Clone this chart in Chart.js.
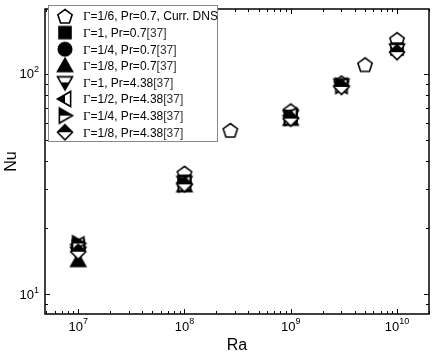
<!DOCTYPE html>
<html>
<head>
<meta charset="utf-8">
<script src="https://cdn.jsdelivr.net/npm/chart.js@4/dist/chart.umd.min.js"></script>
<style>
  html, body { margin: 0; padding: 0; background: #fff; }
</style>
</head>
<body>
<canvas id="nu-chart" width="438" height="360"></canvas>
<script>
// Nu vs Ra
const raDns = [1e8, 2.7e8, 1e9, 3e9, 5e9, 1e10];
const nuDns = [35.5, 55.5, 68, 91, 110, 143];

const raG1Pr07 = [1e7, 1e8, 1e9, 1e10];
const nuG1Pr07 = [16.6, 32.5, 63.5, 129];

const raG4Pr07 = [1e7, 1e8, 1e9];
const nuG4Pr07 = [16.2, 32, 63];

const raG8Pr07 = [1e7, 1e8, 1e9];
const nuG8Pr07 = [14.2, 31, 62];

const raG1Pr438 = [1e7, 1e8, 1e9, 3e9, 1e10];
const nuG1Pr438 = [15.4, 32.2, 64, 89, 128];

const raG2Pr438 = [1e7, 1e8, 1e9, 3e9];
const nuG2Pr438 = [16.8, 32, 64.5, 88];

const raG4Pr438 = [1e7, 1e8, 1e9, 3e9];
const nuG4Pr438 = [17, 31.5, 63, 88];

const raG8Pr438 = [1e7, 1e8, 1e9, 3e9, 1e10];
const nuG8Pr438 = [15.6, 31.5, 62.5, 87, 125];

const xTicks = [1e7, 1e8, 1e9, 1e10];
const yTicks = [10, 100];

const labels = [
  ['Γ', '=1/6, Pr=0.7, Curr. DNS', ''],
  ['Γ', '=1, Pr=0.7', '[37]'],
  ['Γ', '=1/4, Pr=0.7', '[37]'],
  ['Γ', '=1/8, Pr=0.7', '[37]'],
  ['Γ', '=1, Pr=4.38', '[37]'],
  ['Γ', '=1/2, Pr=4.38', '[37]'],
  ['Γ', '=1/4, Pr=4.38', '[37]'],
  ['Γ', '=1/8, Pr=4.38', '[37]'],
];

const SANS = '"Liberation Sans", Arial, sans-serif';
const SERIF = '"Liberation Serif", "Times New Roman", serif';

const shapePath = (ctx, shape, c, r) => {
  ctx.beginPath();
  if (shape === 'pentagon') {
    for (let i = 0; i < 5; i++) {
      const a = -Math.PI / 2 + i * 2 * Math.PI / 5;
      const px = c + r * Math.cos(a);
      const py = c + 1 + r * Math.sin(a);
      if (i === 0) ctx.moveTo(px, py); else ctx.lineTo(px, py);
    }
  } else if (shape === 'square') {
    ctx.rect(c - r * 0.8, c - r * 0.8, r * 1.6, r * 1.6);
  } else if (shape === 'circle') {
    ctx.arc(c, c, r * 0.9, 0, Math.PI * 2);
  } else if (shape === 'up') {
    ctx.moveTo(c, c - r); ctx.lineTo(c + r, c + r * 0.75); ctx.lineTo(c - r, c + r * 0.75);
  } else if (shape === 'down') {
    ctx.moveTo(c, c + r); ctx.lineTo(c + r, c - r * 0.75); ctx.lineTo(c - r, c - r * 0.75);
  } else if (shape === 'left') {
    ctx.moveTo(c - r, c); ctx.lineTo(c + r * 0.75, c - r); ctx.lineTo(c + r * 0.75, c + r);
  } else if (shape === 'right') {
    ctx.moveTo(c + r, c); ctx.lineTo(c - r * 0.75, c - r); ctx.lineTo(c - r * 0.75, c + r);
  } else if (shape === 'diamond') {
    ctx.moveTo(c, c - r); ctx.lineTo(c + r, c); ctx.lineTo(c, c + r); ctx.lineTo(c - r, c);
  }
  ctx.closePath();
};

// fill: 'white' | 'black' | which half is black
const makeMarker = (shape, fill) => {
  const size = 20;
  const c = size / 2;
  const r = 7.5;
  const cv = document.createElement('canvas');
  cv.width = size; cv.height = size;
  const ctx = cv.getContext('2d');
  shapePath(ctx, shape, c, r);
  ctx.fillStyle = fill === 'black' ? '#000' : '#fff';
  ctx.fill();
  if (fill !== 'black' && fill !== 'white') {
    ctx.save();
    shapePath(ctx, shape, c, r);
    ctx.clip();
    ctx.fillStyle = '#000';
    if (fill === 'bottom') ctx.fillRect(0, c, size, c);
    if (fill === 'top') ctx.fillRect(0, 0, size, c);
    if (fill === 'leftHalf') ctx.fillRect(0, 0, c, size);
    ctx.restore();
  }
  shapePath(ctx, shape, c, r);
  ctx.lineWidth = 1.6;
  ctx.strokeStyle = '#000';
  ctx.stroke();
  return cv;
};

const markers = [
  makeMarker('pentagon', 'white'),
  makeMarker('square', 'black'),
  makeMarker('circle', 'black'),
  makeMarker('up', 'black'),
  makeMarker('down', 'bottom'),
  makeMarker('left', 'leftHalf'),
  makeMarker('right', 'top'),
  makeMarker('diamond', 'top'),
];

const pairs = (xs, ys) => xs.map((x, i) => ({ x, y: ys[i] }));

const seriesData = [
  pairs(raDns, nuDns),
  pairs(raG1Pr07, nuG1Pr07),
  pairs(raG4Pr07, nuG4Pr07),
  pairs(raG8Pr07, nuG8Pr07),
  pairs(raG1Pr438, nuG1Pr438),
  pairs(raG2Pr438, nuG2Pr438),
  pairs(raG4Pr438, nuG4Pr438),
  pairs(raG8Pr438, nuG8Pr438),
];

// draw order: references first, DNS on top
const datasets = seriesData.map((data, idx) => ({
  label: labels[idx].join(''),
  data,
  pointStyle: markers[idx],
  pointRadius: 8,
  showLine: false,
})).reverse();

const drawSup = (ctx, base, exp, x, y, align) => {
  ctx.font = `13px ${SANS}`;
  const wb = ctx.measureText(base).width;
  ctx.font = `9px ${SANS}`;
  const we = ctx.measureText(exp).width;
  const total = wb + we;
  let left = x;
  if (align === 'center') left = x - total / 2;
  if (align === 'right') left = x - total;
  ctx.textBaseline = 'middle';
  ctx.textAlign = 'left';
  ctx.font = `13px ${SANS}`;
  ctx.fillText(base, left, y + 1);
  ctx.font = `9px ${SANS}`;
  ctx.fillText(exp, left + wb, y - 4);
};

const framePlugin = {
  id: 'frame',
  afterDatasetsDraw(chart) {
    const { ctx, chartArea: a, scales } = chart;
    const xs = scales.x;
    const ys = scales.y;
    ctx.save();
    ctx.strokeStyle = '#000';
    ctx.fillStyle = '#000';
    ctx.lineWidth = 1;

    // minor + major ticks, inward on all sides
    for (let e = 6; e <= 10; e++) {
      for (let m = 1; m <= 9; m++) {
        const v = m * Math.pow(10, e);
        if (v < xs.min || v > xs.max) continue;
        const px = Math.round(xs.getPixelForValue(v)) + 0.5;
        const len = m === 1 ? 5 : 3;
        ctx.beginPath();
        ctx.moveTo(px, a.bottom); ctx.lineTo(px, a.bottom - len);
        ctx.moveTo(px, a.top); ctx.lineTo(px, a.top + len);
        ctx.stroke();
      }
    }
    for (let e = 0; e <= 2; e++) {
      for (let m = 1; m <= 9; m++) {
        const v = m * Math.pow(10, e);
        if (v < ys.min || v > ys.max) continue;
        const py = Math.round(ys.getPixelForValue(v)) + 0.5;
        const len = m === 1 ? 5 : 3;
        ctx.beginPath();
        ctx.moveTo(a.left, py); ctx.lineTo(a.left + len, py);
        ctx.moveTo(a.right, py); ctx.lineTo(a.right - len, py);
        ctx.stroke();
      }
    }

    ctx.lineWidth = 1.5;
    ctx.strokeRect(a.left, a.top, a.right - a.left, a.bottom - a.top);

    // tick labels
    xTicks.forEach((v) => {
      const e = Math.round(Math.log10(v));
      drawSup(ctx, '10', String(e), xs.getPixelForValue(v), a.bottom + 12, 'center');
    });
    yTicks.forEach((v) => {
      const e = Math.round(Math.log10(v));
      drawSup(ctx, '10', String(e), a.left - 6, ys.getPixelForValue(v), 'right');
    });

    // axis titles
    ctx.font = `16px ${SANS}`;
    ctx.textAlign = 'center';
    ctx.textBaseline = 'middle';
    ctx.fillText('Ra', (a.left + a.right) / 2, 346);
    ctx.save();
    ctx.translate(12, (a.top + a.bottom) / 2);
    ctx.rotate(-Math.PI / 2);
    ctx.fillText('Nu', 0, 0);
    ctx.restore();

    // legend box
    const lx = 48, ly = 5, lw = 169, lh = 136;
    ctx.fillStyle = '#fff';
    ctx.fillRect(lx, ly, lw, lh);
    ctx.strokeStyle = '#888';
    ctx.lineWidth = 1;
    ctx.strokeRect(lx + 0.5, ly + 0.5, lw, lh);
    ctx.fillStyle = '#000';
    labels.forEach((parts, i) => {
      const cy = ly + 11 + i * 16.6;
      ctx.drawImage(markers[i], 65 - 10, cy - 10);
      let tx = 83;
      ctx.textAlign = 'left';
      ctx.textBaseline = 'middle';
      ctx.font = `13px ${SERIF}`;
      ctx.fillText(parts[0], tx, cy + 1);
      tx += ctx.measureText(parts[0]).width;
      ctx.font = `12px ${SANS}`;
      ctx.fillText(parts[1], tx, cy + 1);
      tx += ctx.measureText(parts[1]).width;
      if (parts[2]) {
        ctx.fillStyle = '#333';
        ctx.fillText(parts[2], tx, cy + 1);
        ctx.fillStyle = '#000';
      }
    });
    ctx.restore();
  },
};

new Chart(document.getElementById('nu-chart'), {
  type: 'scatter',
  data: { datasets },
  options: {
    responsive: false,
    animation: false,
    devicePixelRatio: 1,
    layout: { padding: { left: 45, right: 1, top: 2, bottom: 46 } },
    scales: {
      x: { type: 'logarithmic', min: 4.87e6, max: 2e10, display: false },
      y: { type: 'logarithmic', min: 8.15, max: 196, display: false },
    },
    plugins: {
      legend: { display: false },
      tooltip: { enabled: false },
    },
  },
  plugins: [framePlugin],
});
</script>
</body>
</html>
